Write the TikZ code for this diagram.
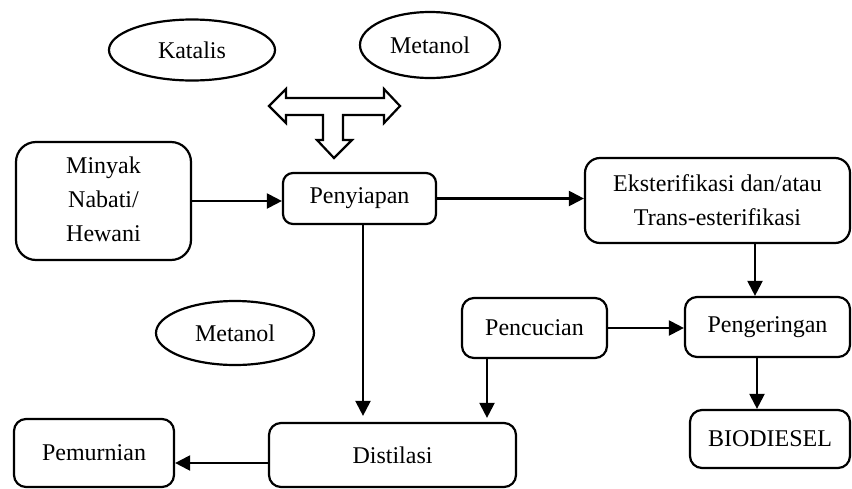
\documentclass[tikz,border=0pt]{standalone}
\usepackage{fontspec}
\setmainfont{Liberation Serif}
\usetikzlibrary{shapes.geometric,arrows.meta}
\begin{document}
\begin{tikzpicture}[x=1pt,y=-1pt,
  txt/.style={font=\fontsize{24}{34}\selectfont},
  box/.style={txt,draw,line width=2.2pt,rounded corners=12pt,inner sep=0pt,align=center},
  ell/.style={txt,draw,ellipse,line width=2.2pt,inner sep=0pt},
  arr/.style={line width=2.2pt,-{Triangle[length=15pt,width=15pt]}},
]
\useasboundingbox (0,0) rectangle (852,488);
% ellipses
\node[ell,minimum width=166,minimum height=61] (kat) at (192,50) {Katalis};
\node[ell,minimum width=140,minimum height=66] (met1) at (430,45) {Metanol};
\node[ell,minimum width=158,minimum height=64] (met2) at (235,333) {Metanol};
% boxes
\node[box,rounded corners=20pt,minimum width=175,minimum height=118] (min) at (103.5,201) {\raisebox{-4pt}{\begin{tabular}{@{}c@{}}Minyak\\Nabati/\\Hewani\end{tabular}}};
\node[box,rounded corners=10pt,minimum width=153,minimum height=51] (pen) at (359.5,198.5) {Penyiapan};
\node[box,rounded corners=15pt,minimum width=265,minimum height=85] (ekst) at (717.5,200.5) {Eksterifikasi dan/atau\\Trans-esterifikasi};
\node[box,minimum width=165,minimum height=60] (peng) at (767.5,327) {Pengeringan};
\node[box,minimum width=145,minimum height=60] (pc) at (534.5,328) {Pencucian};
\node[box,minimum width=160,minimum height=58] (bio) at (770,439) {BIODIESEL};
\node[box,minimum width=247,minimum height=64] (dist) at (392.5,455) {Distilasi};
\node[box,minimum width=160,minimum height=68] (pem) at (94,453) {Pemurnian};
% T-shaped block arrow
\draw[line width=2.2pt,line join=miter] (269,106) -- (286,89) -- (286,98) -- (384,98) -- (384,89) -- (400,106) -- (384,123) -- (384,115) -- (343,115) -- (343,140) -- (352,140) -- (334,158) -- (317,140) -- (323,140) -- (323,115) -- (286,115) -- (286,123) -- cycle;
% connectors
\draw[arr] (min.east) -- (min.east -| pen.west);
\draw[arr] (pen.east) -- (pen.east -| ekst.west);
\draw[arr,shorten >=6pt] ([xshift=3.5]pen.south) -- ([xshift=3.5]pen.south |- dist.north);
\draw[arr] ([xshift=37.5]ekst.south) -- ([xshift=37.5]ekst.south |- peng.north);
\draw[arr] ([xshift=-10.5]peng.south) -- ([xshift=-10.5]peng.south |- bio.north);
\draw[arr] (pc.east) -- (pc.east -| peng.west);
\draw[arr,shorten >=4pt] ([xshift=-47.5]pc.south) -- ([xshift=-47.5]pc.south |- dist.north);
\draw[arr] ([yshift=-8]dist.west) -- ([yshift=-8]dist.west -| pem.east);
\end{tikzpicture}
\end{document}
